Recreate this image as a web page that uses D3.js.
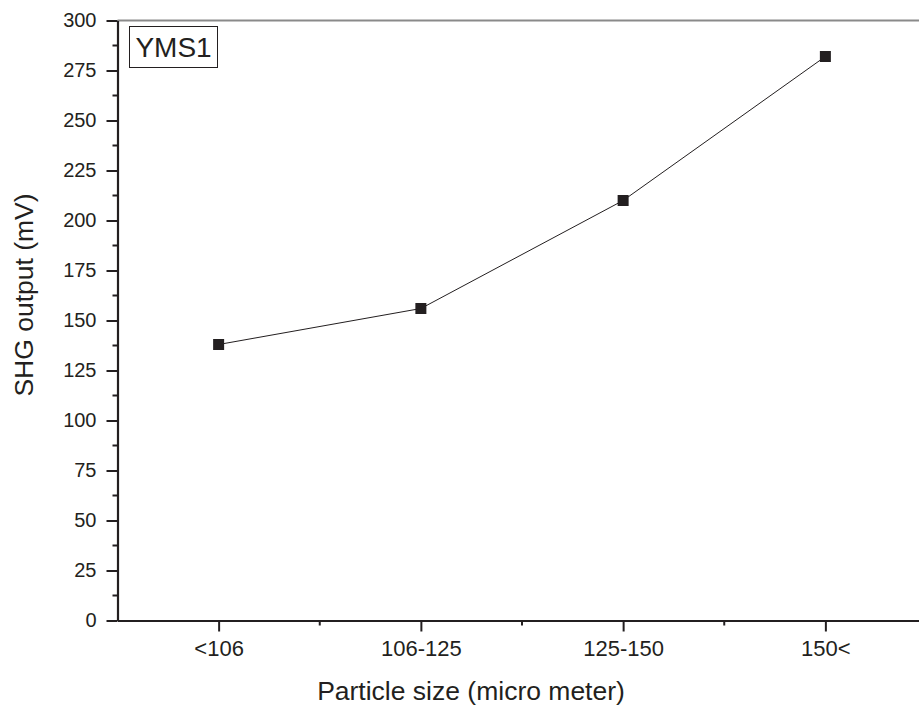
<!DOCTYPE html>
<html>
<head>
<meta charset="utf-8">
<script src="https://cdn.jsdelivr.net/npm/d3@7"></script>
<style>
  html, body { margin: 0; padding: 0; background: #fff; }
  svg { display: block; font-family: "Liberation Sans", Arial, sans-serif; }
</style>
</head>
<body>
<svg id="chart" width="919" height="712"></svg>
<script>
// Particle size classes and measured SHG signal
const categories = ["<106", "106-125", "125-150", "150<"];
const shgValues = [138, 156, 210, 282];
const yTicks = [0, 25, 50, 75, 100, 125, 150, 175, 200, 225, 250, 275, 300];
const sampleName = "YMS1";

const ink = "#231f20";
const svg = d3.select("#chart");

const plotLeft = 117.5, plotRight = 926.5, plotTop = 20.5, plotBottom = 620.5;

// categories sit at 1..4 on a linear scale so minor ticks fall halfway between
const x = d3.scaleLinear().domain([0.5, categories.length + 0.5]).range([plotLeft, plotRight]);
const y = d3.scaleLinear().domain([0, 300]).range([plotBottom, plotTop]);

// top frame line
svg.append("line")
  .attr("x1", plotLeft).attr("x2", plotRight)
  .attr("y1", plotTop).attr("y2", plotTop)
  .attr("stroke", "#8a8a8a").attr("stroke-width", 2);

// y axis: major ticks with labels, minor ticks in between
const yAxis = d3.axisLeft(y).tickValues(yTicks).tickSize(11).tickPadding(10).tickSizeOuter(0);
const gy = svg.append("g").attr("transform", `translate(${plotLeft},0)`).call(yAxis);
gy.selectAll(".tick line").attr("stroke", ink).attr("stroke-width", 2);
gy.selectAll(".tick text").attr("fill", ink).attr("font-size", 20)
  .attr("font-family", "Liberation Sans, Arial, sans-serif");
const yMinor = d3.range(12.5, 300, 25);
svg.append("g").selectAll("line").data(yMinor).join("line")
  .attr("x1", plotLeft - 5).attr("x2", plotLeft)
  .attr("y1", d => y(d)).attr("y2", d => y(d))
  .attr("stroke", ink).attr("stroke-width", 2);

// x axis
const xAxis = d3.axisBottom(x)
  .tickValues(d3.range(1, categories.length + 1))
  .tickFormat((d, i) => categories[i])
  .tickSize(11).tickPadding(9).tickSizeOuter(0);
const gx = svg.append("g").attr("transform", `translate(0,${plotBottom})`).call(xAxis);
gx.selectAll(".tick line").attr("stroke", ink).attr("stroke-width", 2);
gx.selectAll(".tick text").attr("fill", ink).attr("font-size", 22)
  .attr("font-family", "Liberation Sans, Arial, sans-serif");
const xMinor = d3.range(1.5, categories.length + 0.5, 1);
svg.append("g").selectAll("line").data(xMinor).join("line")
  .attr("x1", d => x(d)).attr("x2", d => x(d))
  .attr("y1", plotBottom).attr("y2", plotBottom + 5)
  .attr("stroke", ink).attr("stroke-width", 2);

// axis domain lines
gy.select(".domain").attr("stroke", ink).attr("stroke-width", 2.2);
gx.select(".domain").attr("stroke", ink).attr("stroke-width", 2.2);

// data line and square markers
const pts = shgValues.map((v, i) => [x(i + 1), y(v)]);
svg.append("path")
  .attr("d", d3.line()(pts))
  .attr("fill", "none").attr("stroke", ink).attr("stroke-width", 1);
const s = 11;
svg.append("g").selectAll("rect").data(pts).join("rect")
  .attr("x", d => d[0] - s / 2).attr("y", d => d[1] - s / 2)
  .attr("width", s).attr("height", s)
  .attr("fill", ink);

// sample label box
svg.append("rect")
  .attr("x", 129.5).attr("y", 26.5).attr("width", 88).attr("height", 41)
  .attr("fill", "#fff").attr("stroke", ink).attr("stroke-width", 1);
svg.append("text")
  .attr("x", 173.5).attr("y", 56.5).attr("text-anchor", "middle")
  .attr("font-size", 28).attr("fill", ink).text(sampleName);

// axis titles
svg.append("text")
  .attr("x", 471).attr("y", 700).attr("text-anchor", "middle")
  .attr("font-size", 26.5).attr("fill", ink).text("Particle size (micro meter)");
svg.append("text")
  .attr("transform", "translate(33,295) rotate(-90)")
  .attr("text-anchor", "middle")
  .attr("font-size", 26.5).attr("fill", ink).text("SHG output (mV)");
</script>
</body>
</html>
